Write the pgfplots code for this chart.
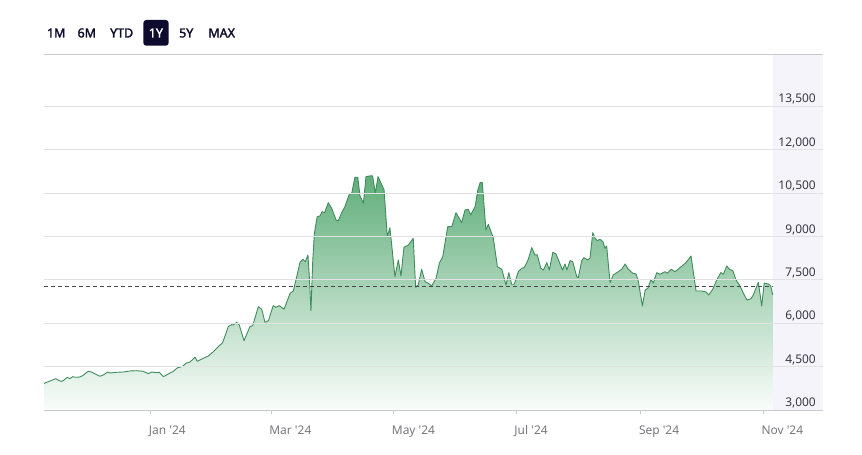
\documentclass[border=0pt]{standalone}
\usepackage{pgfplots}
\usepackage{pgfplotstable}
\pgfplotsset{compat=1.18}
\usepackage{fontspec}
\setmainfont{Noto Sans}
\newfontfamily\btnfont{Noto Sans}[FakeBold=2.2]
\definecolor{linegreen}{RGB}{64,140,92}
\definecolor{filltop}{RGB}{96,174,122}
\definecolor{fillbot}{RGB}{250,253,251}
\definecolor{panel}{RGB}{245,244,251}
\definecolor{gridc}{RGB}{226,226,228}
\definecolor{axc}{RGB}{200,200,205}
\definecolor{navy}{RGB}{14,12,46}
\definecolor{ylab}{RGB}{55,55,65}
\definecolor{xlab}{RGB}{120,120,125}
\pgfplotstableread{
d v
-53.1 3920
-50.1 4000
-47.2 4082
-45.2 4000
-43.8 4000
-41.5 4130
-40.2 4082
-38.8 4151
-37.2 4130
-35.2 4140
-33.6 4199
-31.1 4337
-29.4 4313
-26.9 4220
-25.2 4165
-23.6 4210
-21.4 4313
-20.3 4279
-16.9 4303
-13.6 4313
-10.3 4348
-7.0 4358
-3.7 4337
-1.2 4255
0.5 4313
3.0 4289
4.3 4303
6.3 4151
8.8 4244
11.3 4337
13.2 4452
15.9 4510
17.6 4614
19.6 4659
22.1 4821
23.2 4683
26.2 4787
28.7 4866
31.2 5015
33.7 5188
35.8 5326
37.5 5651
38.6 5879
40.3 5948
41.1 5938
42.8 6031
44.1 5938
46.5 5395
49.4 5879
50.8 5913
53.6 6570
55.3 6480
56.9 6031
58.6 6086
61.0 6605
62.4 6549
64.0 6605
66.4 6480
69.4 7033
71.0 7113
72.7 7607
74.3 8091
75.7 8208
77.0 8125
78.3 8357
79.0 7607
79.8 6432
80.7 8184
81.5 9107
82.9 9681
84.3 9705
85.3 9853
86.6 9819
88.4 10164
90.1 9971
92.3 9566
93.4 9532
95.1 9819
96.7 10026
98.9 10455
100.1 10489
101.7 11042
103.1 11042
104.2 10396
105.9 10144
107.2 11063
109.2 11087
110.5 11087
111.8 10489
113.2 11063
116.2 10603
117.8 8989
119.1 9300
121.6 7607
123.3 8184
124.6 7631
126.1 8623
128.3 8702
130.7 8934
131.9 7241
133.2 7320
134.9 7863
136.6 7434
138.2 7379
139.9 7285
142.1 7552
143.7 8070
145.4 8298
147.9 9335
149.9 9335
152.0 9819
154.8 9473
156.5 9912
158.1 9936
159.3 9739
161.5 10026
162.8 10579
164.0 10856
165.1 10856
166.9 9221
168.1 9418
170.6 8934
172.6 7953
174.8 7863
176.9 7320
178.3 7745
179.7 7344
181.0 7344
183.0 7780
184.7 7897
186.0 7918
188.0 8208
189.7 8609
191.3 8357
192.5 8357
194.2 7897
195.5 7838
197.2 8091
198.5 7838
200.2 8450
201.8 8391
203.8 8046
205.0 7838
206.3 8046
207.2 7838
208.8 8160
210.1 8125
212.1 7607
212.9 7572
214.6 8160
215.7 8264
217.4 8184
218.7 8243
220.1 9128
221.2 8934
222.4 8851
223.7 8899
225.1 8816
226.2 8588
227.0 8668
228.7 7400
230.3 7666
232.8 7780
234.5 7863
236.2 8046
237.8 7863
240.0 7724
241.7 7700
242.8 7434
244.8 6594
246.2 7147
247.5 7206
249.1 7517
250.2 7379
251.9 7745
253.6 7690
256.1 7780
257.2 7724
259.1 7863
261.1 7780
263.5 7918
266.5 8091
269.0 8322
271.5 7113
274.3 7113
276.5 7078
277.8 6974
279.8 7171
281.8 7493
283.8 7745
285.1 7690
286.8 7977
288.1 7863
289.8 7814
291.4 7493
293.4 7285
295.1 7033
296.8 6802
298.7 6836
300.0 6974
302.5 7413
304.2 6594
305.4 7379
307.5 7355
308.7 7285
309.7 6974
}\pricedata
\begin{document}
\begin{tikzpicture}
\begin{axis}[
  scale only axis,
  width=779bp, height=356bp,
  xmin=-53.1, xmax=334.7,
  ymin=3000, ymax=15300,
  axis on top,
  separate axis lines,
  y axis line style={draw=none},
  x axis line style={draw=axc, line width=0.8bp},
  ymajorgrids,
  grid style={draw=gridc, line width=0.7bp},
  ytick={3000,4500,6000,7500,9000,10500,12000,13500},
  scaled y ticks=false,
  ytick style={draw=none},
  yticklabel pos=right,
  yticklabel style={anchor=south east, xshift=-7bp, yshift=1.5bp, inner sep=0pt,
    font=\fontsize{12}{14}\selectfont, text=ylab},
  /pgf/number format/1000 sep={,},
  /pgf/number format/assume math mode=true,
  xtick={0,60,121,182,244,305},
  xticklabels={Jan \textquotesingle24, Mar \textquotesingle24, May \textquotesingle24, Jul \textquotesingle24, Sep \textquotesingle24, Nov \textquotesingle24},
  xtick pos=left,
  xtick align=outside,
  major tick length=3.5bp,
  xtick style={draw=axc, line width=0.8bp},
  xticklabel style={anchor=north west, xshift=-2bp, yshift=-12bp, inner sep=0pt,
    font=\fontsize{12}{14}\selectfont, text=xlab},
  clip=true,
]
\fill[panel] (axis cs:309.7,3000) rectangle (axis cs:334.7,15300);
\addplot[draw=none, top color=filltop, bottom color=fillbot] table {\pricedata} \closedcycle;
\addplot[linegreen, line width=0.9bp, line join=round] table {\pricedata};
\addplot[draw={rgb,255:red,70;green,70;blue,75}, line width=0.8bp, dash pattern=on 4bp off 3bp] coordinates {(-53.1,7270) (309.7,7270)};
\end{axis}
\begin{scope}[shift={(current axis.south west)}]
  \fill[navy, rounded corners=3bp] (99.3bp,364.3bp) rectangle (124.7bp,390bp);
  \tikzset{btn/.style={font=\btnfont\fontsize{12.5}{14}\selectfont, inner sep=0pt, anchor=base}}
  \node[btn, text=navy] at (12.2bp,372.6bp) {1M};
  \node[btn, text=navy] at (42.8bp,372.6bp) {6M};
  \node[btn, text=navy] at (77.7bp,372.6bp) {YTD};
  \node[btn, text=white] at (111.9bp,372.6bp) {1Y};
  \node[btn, text=navy] at (142.2bp,372.6bp) {5Y};
  \node[btn, text=navy] at (177.7bp,372.6bp) {MAX};
\end{scope}
\pgfresetboundingbox
\path (current axis.south west) ++(-44bp,-45bp) rectangle ++(862bp,455bp);
\end{tikzpicture}
\end{document}
